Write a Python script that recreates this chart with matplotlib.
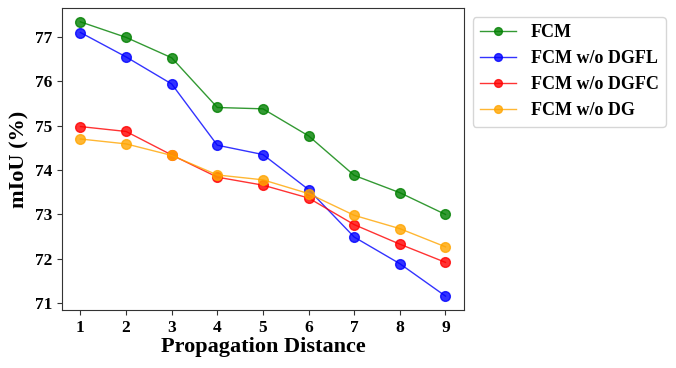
import matplotlib.pyplot as plt
import numpy as np

plt.rcParams['font.family'] = 'Liberation Serif'
plt.rcParams['font.weight'] = 'bold'

# propagation distance
dist = [1, 2, 3, 4, 5, 6, 7, 8, 9]

# mIoU for each variant
fcm = [77.34, 76.99, 76.53, 75.41, 75.38, 74.77, 73.88, 73.49, 73.00]
fcm_no_dgfl = [77.10, 76.55, 75.94, 74.56, 74.35, 73.56, 72.49, 71.89, 71.16]
fcm_no_dgfc = [74.98, 74.87, 74.34, 73.84, 73.66, 73.37, 72.77, 72.33, 71.92]
fcm_no_dg = [74.70, 74.59, 74.33, 73.89, 73.78, 73.47, 72.98, 72.68, 72.27]

fig = plt.figure(figsize=(6.76, 3.68), dpi=100)
ax = fig.add_axes([0.092, 0.158, 0.594, 0.82])

ax.plot(dist, fcm, marker='o', color='green', alpha=0.8, lw=1, ms=7, label='FCM')
ax.plot(dist, fcm_no_dgfl, marker='o', color='blue', alpha=0.8, lw=1, ms=7, label='FCM w/o DGFL')
ax.plot(dist, fcm_no_dgfc, marker='o', color='red', alpha=0.8, lw=1, ms=7, label='FCM w/o DGFC')
ax.plot(dist, fcm_no_dg, marker='o', color='orange', alpha=0.8, lw=1, ms=7, label='FCM w/o DG')

ax.set_xticks(dist)
ax.set_yticks([71, 72, 73, 74, 75, 76, 77])
ax.set_ylim(70.85, 77.65)
ax.tick_params(labelsize=12.5, color='#333333')
for s in ax.spines.values():
    s.set_color('#333333')
ax.set_xlabel('Propagation Distance', fontsize=16, fontweight='bold', labelpad=1)
ax.set_ylabel('mIoU (%)', fontsize=16, fontweight='bold')

ax.legend(loc='upper left', bbox_to_anchor=(1.0, 1.0), markerscale=0.8,
          prop={'weight': 'bold', 'size': 13})

fig.savefig('out.png', dpi=100)
